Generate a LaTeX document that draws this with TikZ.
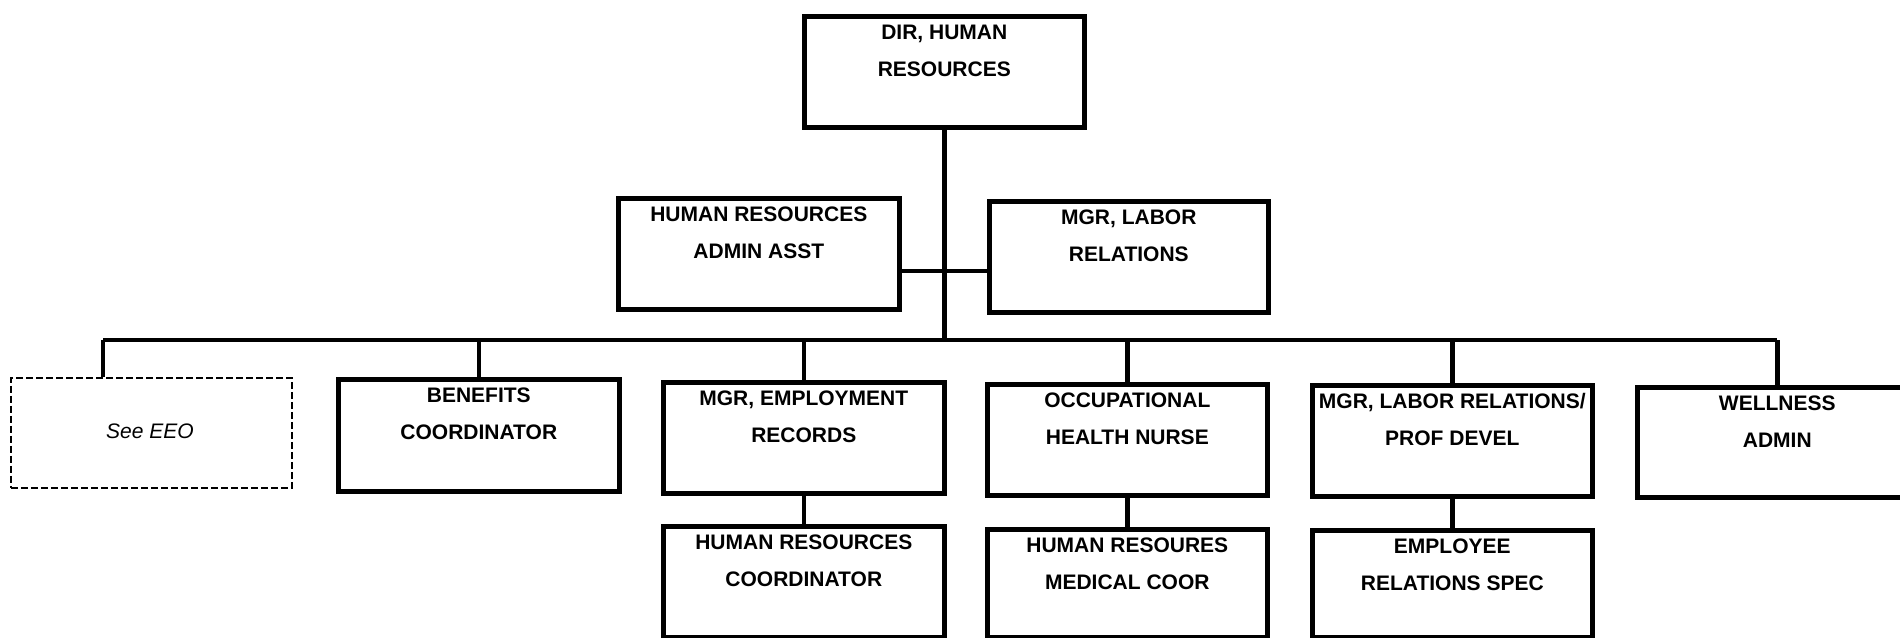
\documentclass[tikz,border=0pt]{standalone}
\usepackage{fontspec}
\setmainfont{Liberation Sans}
\begin{document}
\begin{tikzpicture}[x=1pt,y=-1pt,
  orgbox/.style={draw, line width=4.6pt, anchor=north west, inner sep=0pt,
                 minimum width=280pt, minimum height=111pt},
  refbox/.style={draw, line width=1.8pt, dash pattern=on 7pt off 3pt,
                 anchor=north west, inner sep=0pt,
                 minimum width=281pt, minimum height=110pt},
  ttl/.style={anchor=north, align=center, inner sep=0pt,
              font=\fontsize{21}{37}\selectfont\bfseries},
  conn/.style={line width=4.6pt}]
\useasboundingbox (0,0) rectangle (1900,637);

% top level
\node[orgbox] (dir) at (802,14) {};
\node[ttl] (dir-t) at ([yshift=-10.5pt]dir.north) {DIR, HUMAN\\RESOURCES};

% staff positions
\node[orgbox, minimum width=281pt] (admin) at (616,196) {};
\node[ttl] (admin-t) at ([yshift=-10.5pt]admin.north) {HUMAN RESOURCES\\ADMIN ASST};
\node[orgbox, minimum width=279pt] (labor) at (987,199) {};
\node[ttl] (labor-t) at ([yshift=-10.5pt]labor.north) {MGR, LABOR\\RELATIONS};

% second row
\node[refbox] (eeo) at (10,377) {};
\node[anchor=center, inner sep=0pt, font=\fontsize{21}{25}\selectfont\itshape]
  (eeo-t) at (150,431) {See EEO};
\node[orgbox, minimum width=281pt, minimum height=112pt] (ben) at (336,377) {};
\node[ttl] (ben-t) at ([yshift=-10.5pt]ben.north) {BENEFITS\\COORDINATOR};
\node[orgbox, minimum width=281pt] (emp) at (661,380) {};
\node[ttl] (emp-t) at ([yshift=-10.5pt]emp.north) {MGR, EMPLOYMENT\\RECORDS};
\node[orgbox] (occ) at (985,382) {};
\node[ttl] (occ-t) at ([yshift=-10.5pt]occ.north) {OCCUPATIONAL\\HEALTH NURSE};
\node[orgbox] (lrpd) at (1310,383) {};
\node[ttl] (lrpd-t) at ([yshift=-10.5pt]lrpd.north) {MGR, LABOR RELATIONS/\\PROF DEVEL};
\node[orgbox, minimum height=110pt] (well) at (1635,385) {};
\node[ttl] (well-t) at ([yshift=-10.5pt]well.north) {WELLNESS\\ADMIN};

% third row
\node[orgbox, minimum width=281pt, minimum height=111pt] (hrc) at (661,524) {};
\node[ttl] (hrc-t) at ([yshift=-10.5pt]hrc.north) {HUMAN RESOURCES\\COORDINATOR};
\node[orgbox, minimum height=108pt] (med) at (985,527) {};
\node[ttl] (med-t) at ([yshift=-10.5pt]med.north) {HUMAN RESOURES\\MEDICAL COOR};
\node[orgbox, minimum height=107pt] (ers) at (1310,528) {};
\node[ttl] (ers-t) at ([yshift=-10.5pt]ers.north) {EMPLOYEE\\RELATIONS SPEC};

% connectors
\coordinate (busL) at (103,340);
\coordinate (tee) at (941,271);
\draw[conn] (dir.south) -- (dir.south |- busL);
\draw[conn] (tee -| admin.east) -- (tee -| labor.west);
\draw[conn] (busL) -- (well.north |- busL);
\draw[conn] (busL) -- (busL |- eeo.north);
\foreach \b in {ben,emp,occ,lrpd,well}
  \draw[conn] (\b.north |- busL) -- (\b.north);
\draw[conn] (emp.south) -- (hrc.north);
\draw[conn] (occ.south) -- (med.north);
\draw[conn] (lrpd.south) -- (ers.north);
\end{tikzpicture}
\end{document}
